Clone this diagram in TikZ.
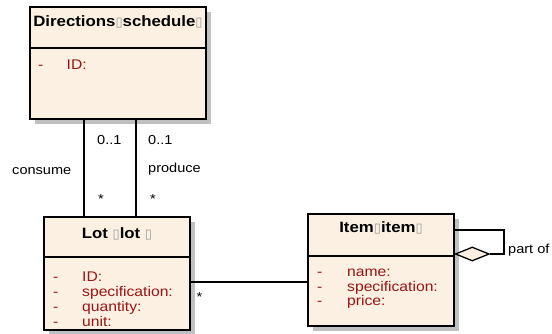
\documentclass[tikz,border=0pt]{standalone}
\usepackage{fontspec}
\setmainfont{Liberation Sans}[FakeStretch=1.12]
\newfontfamily\symfont{DejaVu Sans}
\usetikzlibrary{shapes.geometric,shadows}
\definecolor{classfill}{RGB}{251,240,226}
\definecolor{attrred}{RGB}{155,20,20}
\definecolor{shadowgray}{RGB}{192,192,192}
\newcommand{\tofu}{{\symfont\fontsize{13}{13}\selectfont\color{black!40}▯}}

\begin{document}
\begin{tikzpicture}[x=1pt,y=-1pt,
  classbox/.style={draw=black, line width=1.3pt, fill=classfill, inner sep=0pt,
     general shadow={shadow xshift=5pt, shadow yshift=-5pt, fill=shadowgray}},
  title/.style={font=\fontsize{15}{15}\selectfont\bfseries, anchor=base, inner sep=0pt},
  attr/.style={font=\fontsize{14}{14}\selectfont, text=attrred, anchor=base west, inner sep=0pt},
  lbl/.style={font=\fontsize{13}{13}\selectfont, inner sep=0pt},
  conn/.style={draw=black, line width=1.3pt}]

\useasboundingbox (0,0) rectangle (552,334);
\fill[white] (0,0) rectangle (552,334);

% class boxes
\node[classbox, minimum width=176pt, minimum height=112pt] (dir) at (118,63) {};
\node[classbox, minimum width=146pt, minimum height=113pt] (lot) at (117,273.5) {};
\node[classbox, minimum width=146pt, minimum height=112pt] (item) at (381,270) {};

% compartment dividers
\draw[conn] (dir.west |- 0,48) -- (dir.east |- 0,48);
\draw[conn] (lot.west |- 0,257) -- (lot.east |- 0,257);
\draw[conn] (item.west |- 0,256) -- (item.east |- 0,256);

% Directions schedule
\node[title] (dirtitle) at (118,27) {Directions\tofu schedule\tofu};
\node[attr] (dirm1) at (38,70) {-};
\node[attr] (dira1) at (66.5,70) {ID:};

% Lot
\node[title] (lottitle) at (117,238) {Lot \tofu lot \tofu};
\node[attr] (lotm1) at (53,281) {-};
\node[attr] (lotm2) at (53,296) {-};
\node[attr] (lotm3) at (53,311) {-};
\node[attr] (lotm4) at (53,326) {-};
\node[attr] (lota1) at (82,281) {ID:};
\node[attr] (lota2) at (82,296) {specification:};
\node[attr] (lota3) at (82,311) {quantity:};
\node[attr] (lota4) at (82,326) {unit:};

% Item
\node[title] (itemtitle) at (381,233) {Item\tofu item\tofu};
\node[attr] (itemm1) at (317,276) {-};
\node[attr] (itemm2) at (317,291) {-};
\node[attr] (itemm3) at (317,305) {-};
\node[attr] (itema1) at (347,276) {name:};
\node[attr] (itema2) at (347,291) {specification:};
\node[attr] (itema3) at (347,305) {price:};

% associations between Directions schedule and Lot
\draw[conn] ([xshift=-34pt]dir.south) -- ([xshift=-34pt]dir.south |- lot.north);
\draw[conn] ([xshift=18pt]dir.south) -- ([xshift=18pt]dir.south |- lot.north);
\node[lbl, anchor=base west] (m1) at (97,145) {0..1};
\node[lbl, anchor=base west] (m2) at (148,145) {0..1};
\node[lbl, anchor=base east] (consume) at (71.5,175) {consume};
\node[lbl, anchor=base west] (produce) at (148,172.5) {produce};
\node[lbl] (s1) at (101,199) {*};
\node[lbl] (s2) at (153,199) {*};

% association between Lot and Item
\draw[conn] (lot.east |- 0,282) -- (item.west |- 0,282);
\node[lbl] (s3) at (199.5,297) {*};

% aggregation of Item with itself
\node[diamond, draw=black, line width=1.3pt, fill=classfill, inner sep=0pt,
      minimum width=34pt, minimum height=14pt, aspect=2.4, anchor=west]
      (agg) at (item.east |- 0,254) {};
\draw[conn] (item.east |- 0,230) -| (504,254) -- (agg.east);
\node[lbl, anchor=base west] (partof) at (508,253) {part of};
\end{tikzpicture}
\end{document}
